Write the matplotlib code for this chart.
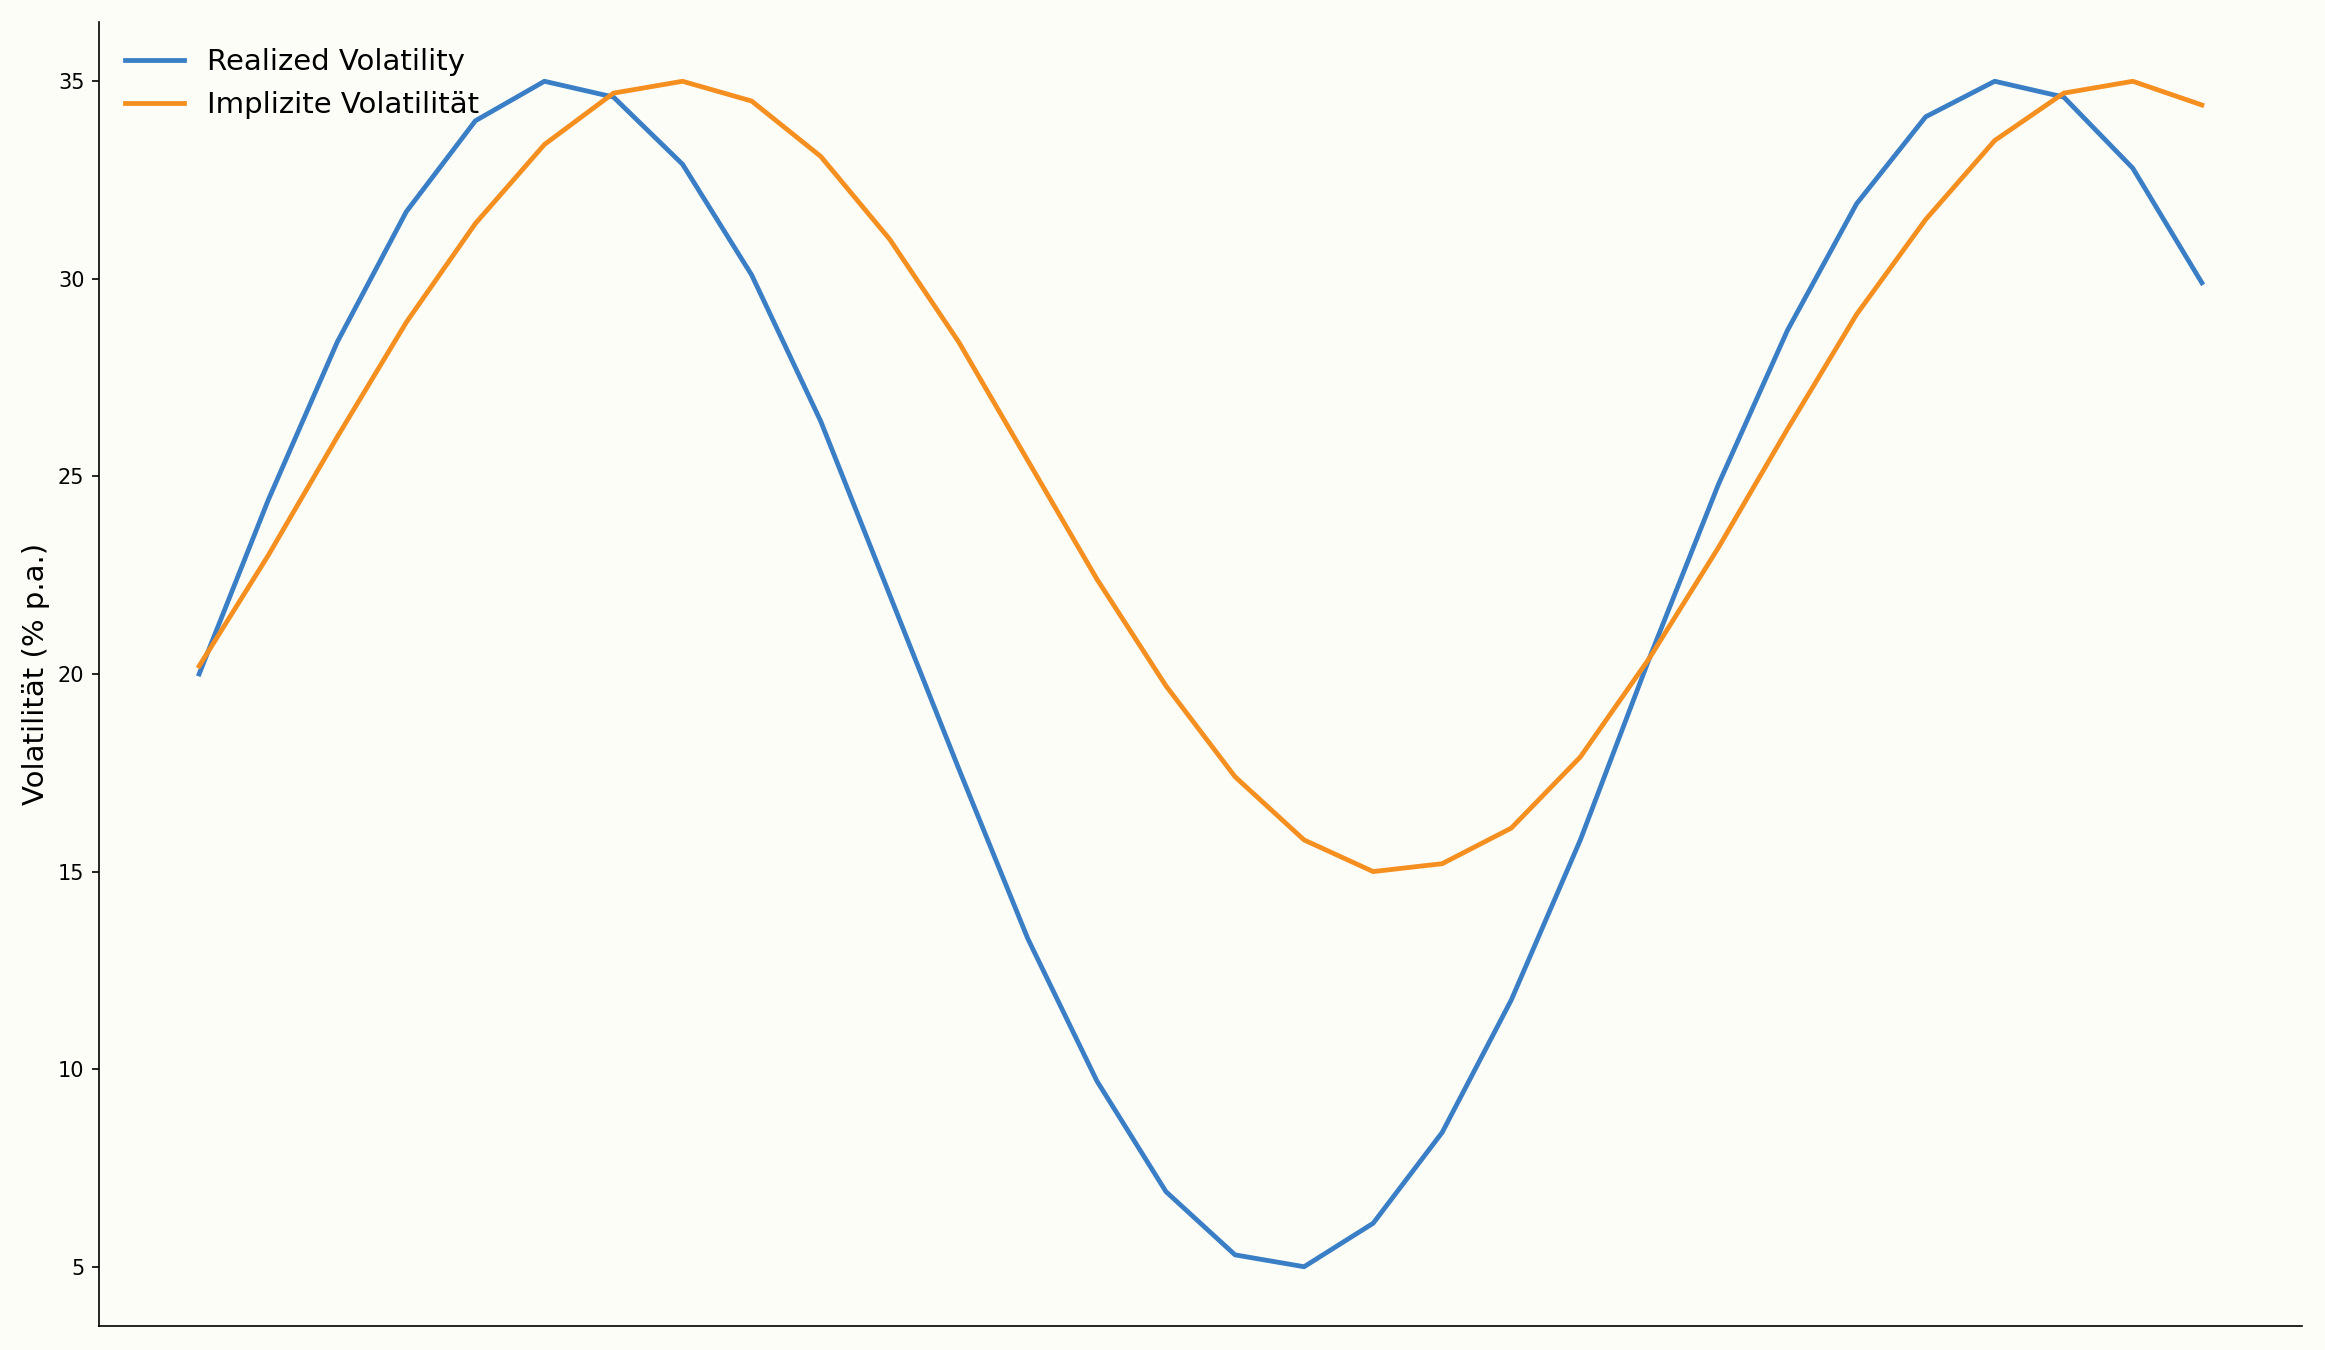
import matplotlib
matplotlib.use("Agg")
import matplotlib.pyplot as plt
import numpy as np

realized = [20.0, 24.4, 28.4, 31.7, 34.0, 35.0, 34.6, 32.9, 30.1, 26.4,
            22.0, 17.6, 13.3, 9.7, 6.9, 5.3, 5.0, 6.1, 8.4, 11.75,
            15.8, 20.4, 24.8, 28.7, 31.9, 34.1, 35.0, 34.6, 32.8, 29.9]
implied = [20.2, 23.0, 26.0, 28.9, 31.4, 33.4, 34.7, 35.0, 34.5, 33.1,
           31.0, 28.4, 25.4, 22.4, 19.7, 17.4, 15.8, 15.0, 15.2, 16.1,
           17.9, 20.4, 23.2, 26.2, 29.1, 31.5, 33.5, 34.7, 35.0, 34.4]
labels = ["Realized Volatility", "Implizite Volatilität"]
ylabel = "Volatilität (% p.a.)"

bg = "#fdfdf8"
fig = plt.figure(figsize=(15.5, 9), dpi=150, facecolor=bg)
ax = fig.add_axes([99/2325, 1 - 1326/1350, (2302-99)/2325, (1326-22)/1350])
ax.set_facecolor(bg)
x = np.arange(len(realized))
ax.plot(x, realized, color="#3a7ec6", lw=2.3, label=labels[0])
ax.plot(x, implied, color="#f58f1f", lw=2.3, label=labels[1])
ax.set_xlim(-1.45, 30.45)
ax.set_ylim(3.5, 36.5)
ax.set_yticks([5, 10, 15, 20, 25, 30, 35])
ax.set_xticks([])
ax.spines["top"].set_visible(False)
ax.spines["right"].set_visible(False)
ax.tick_params(axis="y", labelsize=10)
ax.set_ylabel(ylabel, fontsize=14)
ax.legend(loc="upper left", frameon=False, fontsize=14)
fig.savefig("out.png", dpi=150, facecolor=bg)
